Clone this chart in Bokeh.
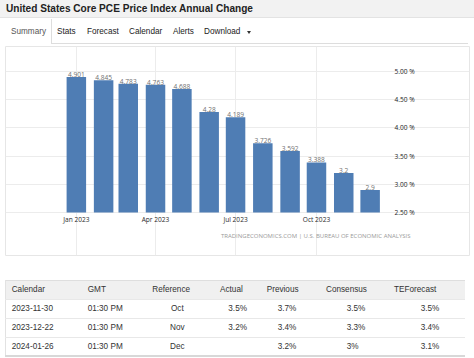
import pandas as pd
from bokeh.plotting import figure
from bokeh.models import (Div, FixedTicker, LinearAxis, Label, Range1d,
                          ColumnDataSource, PrintfTickFormatter, Grid)
from bokeh.layouts import column
from bokeh.core.properties import value
from bokeh.embed import file_html
from bokeh.resources import INLINE

# ---------------- data ----------------
months = ["2023-01-01", "2023-02-01", "2023-03-01", "2023-04-01", "2023-05-01", "2023-06-01",
          "2023-07-01", "2023-08-01", "2023-09-01", "2023-10-01", "2023-11-01", "2023-12-01"]
pce_values = [4.901, 4.845, 4.783, 4.763, 4.688, 4.28, 4.189, 3.726, 3.592, 3.388, 3.2, 2.9]
value_labels = ["4.901", "4.845", "4.783", "4.763", "4.688", "4.28", "4.189", "3.726",
                "3.592", "3.388", "3.2", "2.9"]
tick_dates = ["2023-01-01", "2023-04-01", "2023-07-01", "2023-10-01"]
tick_labels = ["Jan 2023", "Apr 2023", "Jul 2023", "Oct 2023"]
y_ticks = [2.5, 3.0, 3.5, 4.0, 4.5, 5.0]

title_text = "United States Core PCE Price Index Annual Change"
tab_names = ["Summary", "Stats", "Forecast", "Calendar", "Alerts", "Download"]
source_text = "TRADINGECONOMICS.COM | U.S. BUREAU OF ECONOMIC ANALYSIS"

table_headers = ["Calendar", "GMT", "Reference", "Actual", "Previous", "Consensus", "TEForecast"]
cal_dates = ["2023-11-30", "2023-12-22", "2024-01-26"]
gmt_times = ["01:30 PM", "01:30 PM", "01:30 PM"]
references = ["Oct", "Nov", "Dec"]
actuals = ["3.5%", "3.2%", ""]
previous = ["3.7%", "3.4%", "3.2%"]
consensus = ["3.5%", "3.3%", "3%"]
teforecast = ["3.5%", "3.4%", "3.1%"]

# ---------------- layout constants (page pixels) ----------------
W = 474
HEADER_H = 45
FIG_H = 227
TABLE_H = 358 - HEADER_H - FIG_H
FRAME_LEFT, FRAME_RIGHT = 5, 469
FRAME_TOP, FRAME_BOTTOM = 46, 255
PX_PER_DAY = 0.8796
PX_PER_UNIT = 56.4
ANCHOR_PAGE_X = 75.85
BASE_PAGE_Y = 212.0
Y_FLOOR = 2.5
DAY_MS = 86400000
BAR_COLOR = "#4f7db4"
FONT = "'Liberation Sans', Arial, Helvetica, sans-serif"

def to_ms(d):
    return int(pd.Timestamp(d).value // 10**6)

anchor_ms = to_ms(months[0])

def page_x_to_ms(px):
    return anchor_ms + (px - ANCHOR_PAGE_X) / PX_PER_DAY * DAY_MS

def page_y_to_val(py):
    return Y_FLOOR + (BASE_PAGE_Y - py) / PX_PER_UNIT

bar_ms = [to_ms(m) for m in months]
tick_ms = [to_ms(d) for d in tick_dates]

# ---------------- header ----------------
tab_x = [11, 57, 87, 129, 173, 204]
tab_parts = []
for name, x in zip(tab_names, tab_x):
    col = "#555555" if name == "Summary" else "#222222"
    tab_parts.append(
        f'<div style="position:absolute;left:{x}px;top:26.5px;line-height:10px;font-size:8.2px;'
        f'color:{col};white-space:nowrap;">{name}</div>')
header_html = (
    f'<div style="position:relative;width:{W}px;height:{HEADER_H}px;font-family:{FONT};">'
    '<div style="position:absolute;left:0px;top:0px;width:474px;height:18px;background:#f2f2f2;'
    'border-bottom:1px solid #e3e3e3;"></div>'
    f'<div style="position:absolute;left:6px;top:3px;line-height:12px;font-size:10.1px;font-weight:bold;'
    f'color:#222222;white-space:nowrap;">{title_text}</div>'
    + "".join(tab_parts) +
    '<div style="position:absolute;left:246.5px;top:31px;width:0;height:0;border-left:2.5px solid transparent;'
    'border-right:2.5px solid transparent;border-top:3px solid #333333;"></div>'
    '<div style="position:absolute;left:51px;top:19px;width:1px;height:24px;background:#dddddd;"></div>'
    '<div style="position:absolute;left:51px;top:43px;width:417px;height:1px;background:#dddddd;"></div>'
    '</div>'
)
header_div = Div(text=header_html, width=W, height=HEADER_H, margin=0,
                 styles={"overflow": "visible"})

# ---------------- chart ----------------
p = figure(width=W, height=FIG_H, title=None,
           x_range=Range1d(page_x_to_ms(FRAME_LEFT), page_x_to_ms(FRAME_RIGHT)),
           y_range=Range1d(page_y_to_val(FRAME_BOTTOM), page_y_to_val(FRAME_TOP)),
           x_axis_location=None, y_axis_location=None,
           toolbar_location=None, output_backend="svg",
           min_border_left=FRAME_LEFT, min_border_right=W - FRAME_RIGHT,
           min_border_top=FRAME_TOP - HEADER_H,
           min_border_bottom=HEADER_H + FIG_H - FRAME_BOTTOM)
p.outline_line_color = "#e6e6e6"
p.background_fill_color = "white"
p.border_fill_color = "white"
p.grid.visible = False

xg = Grid(dimension=0, ticker=FixedTicker(ticks=tick_ms), bounds=(Y_FLOOR, 5.0),
          grid_line_color="#ececec")
yg = Grid(dimension=1, ticker=FixedTicker(ticks=y_ticks),
          bounds=(page_x_to_ms(55), page_x_to_ms(391)), grid_line_color="#ececec")
p.add_layout(xg)
p.add_layout(yg)

src = ColumnDataSource(dict(x=bar_ms, top=pce_values, label=value_labels))
p.vbar(x="x", top="top", bottom=Y_FLOOR, width=(19.5 / PX_PER_DAY) * DAY_MS, source=src,
       fill_color=BAR_COLOR, line_color=None)
p.text(x="x", y="top", text="label", source=src, text_align="center",
       text_baseline="alphabetic", y_offset=-2.5, text_font=value("Open Sans"),
       text_font_size="6.6px", text_color="#707070")

xaxis = LinearAxis(fixed_location=Y_FLOOR, ticker=FixedTicker(ticks=tick_ms),
                   major_label_overrides={int(t): lab for t, lab in zip(tick_ms, tick_labels)},
                   axis_line_color=None, major_tick_line_color=None, minor_tick_line_color=None,
                   major_tick_out=0, major_tick_in=0, major_label_standoff=2,
                   major_label_text_font="Open Sans", major_label_text_font_size="6.6px",
                   major_label_text_color="#2a2a2a")
p.add_layout(xaxis, "below")

yaxis = LinearAxis(fixed_location=page_x_to_ms(391), ticker=FixedTicker(ticks=y_ticks),
                   formatter=PrintfTickFormatter(format="%.2f %%"),
                   axis_line_color=None, major_tick_line_color=None, minor_tick_line_color=None,
                   major_tick_out=0, major_tick_in=0, major_label_standoff=3,
                   major_label_text_font="Open Sans", major_label_text_font_size="6.6px",
                   major_label_text_color="#1e1e1e")
p.add_layout(yaxis, "right")

p.add_layout(Label(x=page_x_to_ms(410), y=page_y_to_val(235), text=source_text,
                   text_align="right", text_baseline="middle", text_font="Open Sans",
                   text_font_size="6.0px", text_color="#9a9a9a"))

# ---------------- table ----------------
TABLE_TOP_PAGE = HEADER_H + FIG_H
def ty(page_y):
    return page_y - TABLE_TOP_PAGE

row_tops = [280, 299, 318, 337]
header_left = [11.7, 87.7, 152.3, 220, 266.7, 326, 394]
value_left = {0: 11.7, 1: 87.7, 3: 228.3, 4: 277.7, 5: 346.7, 6: 420.7}
ref_center = 177.3

parts = []
parts.append(f'<div style="position:absolute;left:5px;top:{ty(280)}px;width:460px;height:19px;'
             'background:#f0f0f0;border-top:1px solid #dedede;box-sizing:border-box;"></div>')
parts.append(f'<div style="position:absolute;left:5px;top:{ty(280)}px;width:1px;height:76px;'
             'background:#e2e2e2;"></div>')
for yline in [299, 318, 337]:
    parts.append(f'<div style="position:absolute;left:5px;top:{ty(yline)}px;width:460px;height:1px;'
                 'background:#e8e8e8;"></div>')
parts.append(f'<div style="position:absolute;left:5px;top:{ty(355)}px;width:460px;height:2px;'
             'background:#d8d8d8;"></div>')

cell_style = "position:absolute;line-height:19px;height:19px;font-size:8.2px;color:#333333;white-space:nowrap;"
for h, x in zip(table_headers, header_left):
    parts.append(f'<div style="{cell_style}left:{x}px;top:{ty(row_tops[0])}px;">{h}</div>')

columns = [cal_dates, gmt_times, references, actuals, previous, consensus, teforecast]
for r in range(3):
    top = ty(row_tops[r + 1])
    for c, col in enumerate(columns):
        txt = col[r]
        if c == 2:
            parts.append(f'<div style="{cell_style}left:{ref_center - 25}px;width:50px;'
                         f'text-align:center;top:{top}px;">{txt}</div>')
        else:
            parts.append(f'<div style="{cell_style}left:{value_left[c]}px;top:{top}px;">{txt}</div>')

table_html = (f'<div style="position:relative;width:{W}px;height:{TABLE_H}px;font-family:{FONT};">'
              + "".join(parts) + '</div>')
table_div = Div(text=table_html, width=W, height=TABLE_H, margin=0, styles={"overflow": "visible"})

layout = column(header_div, p, table_div, spacing=0, margin=0)

open("out.html", "w").write(file_html(layout, INLINE, title="United States Core PCE Price Index Annual Change"))
